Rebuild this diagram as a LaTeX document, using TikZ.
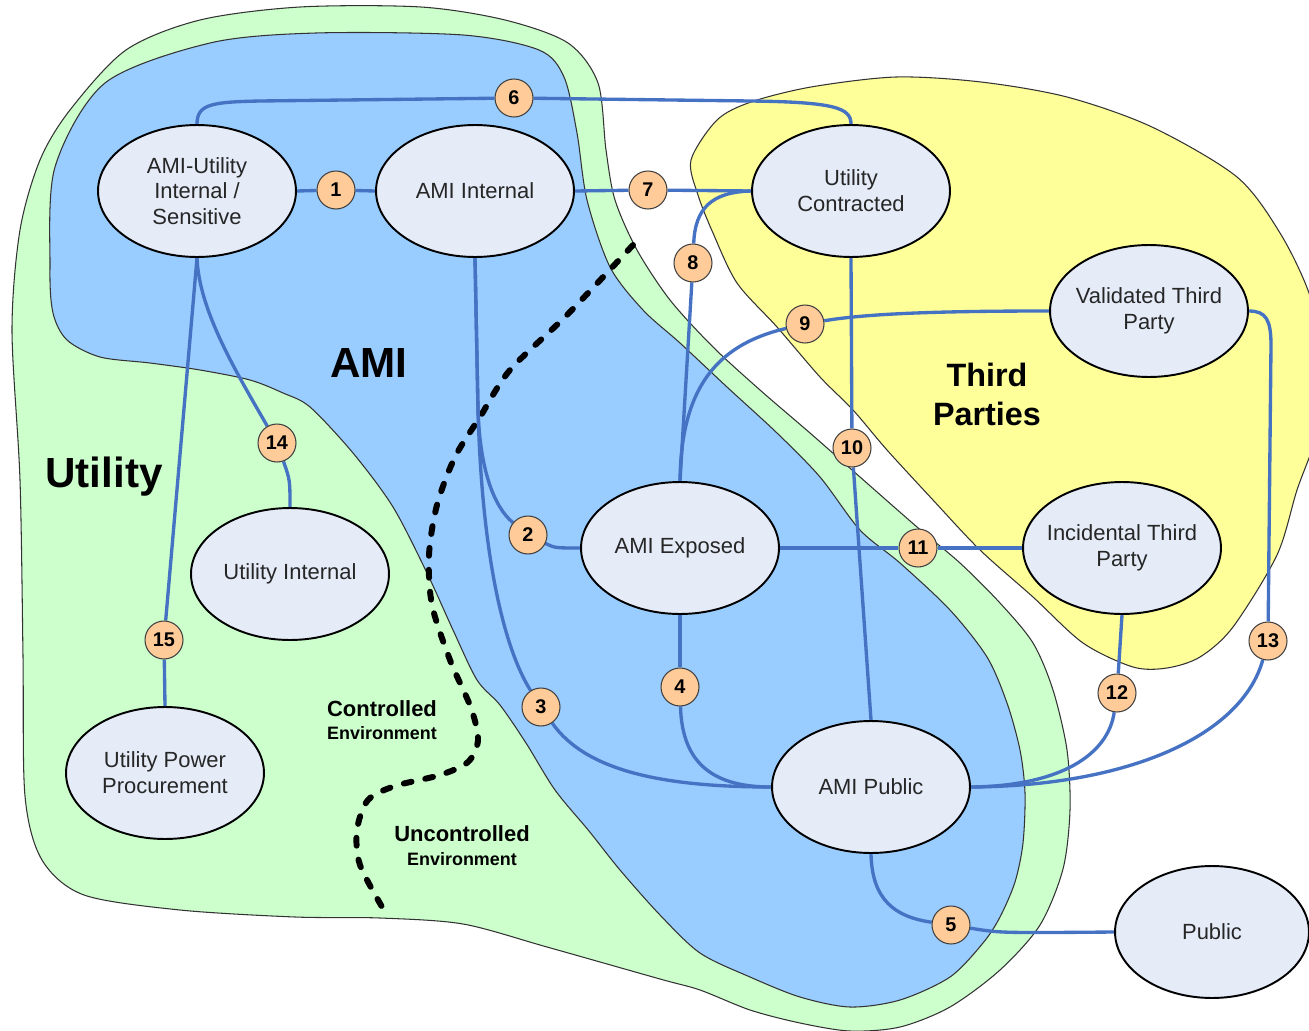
\documentclass[tikz,border=0pt]{standalone}
\usepackage{fontspec}
\setmainfont{Liberation Sans}
\usetikzlibrary{shapes.geometric}
\pgfdeclarelayer{back}
\pgfdeclarelayer{mid}
\pgfsetlayers{back,mid,main}
\definecolor{nodefill}{RGB}{229,236,248}
\definecolor{badgefill}{RGB}{255,204,153}
\definecolor{amiblue}{RGB}{153,204,255}
\definecolor{utilgreen}{RGB}{204,255,204}
\definecolor{thirdyellow}{RGB}{255,255,153}
\definecolor{connblue}{RGB}{70,114,196}
\tikzset{
  zone/.style={draw=black!80, line width=0.6pt},
  oval/.style={ellipse, draw=black, line width=1.1pt, fill=nodefill, inner xsep=-4pt, inner ysep=0pt,
    minimum width=3.96cm, minimum height=2.64cm, align=center, text=black!85,
    font=\fontsize{12.5pt}{14.7pt}\selectfont},
  badge/.style={circle, draw=black!75, line width=0.6pt, fill=badgefill, inner sep=0pt,
    minimum size=0.76cm, font=\bfseries\fontsize{11.3pt}{13pt}\selectfont},
  conn/.style={draw=connblue, line width=1.9pt},
  biglabel/.style={font=\bfseries\fontsize{24pt}{28pt}\selectfont, anchor=base, inner sep=0pt},
  midlabel/.style={font=\bfseries\fontsize{18.4pt}{21pt}\selectfont, anchor=base, inner sep=0pt},
  envbig/.style={font=\bfseries\fontsize{12.5pt}{14pt}\selectfont, anchor=base, inner sep=0pt},
  envsmall/.style={font=\bfseries\fontsize{10.2pt}{12pt}\selectfont, anchor=base, inner sep=0pt},
  boundary/.style={draw=black, line width=3.4pt, line cap=round, dash pattern=on 4.5pt off 8pt}
}
\begin{document}
\begin{tikzpicture}[x=0.02cm, y=-0.02cm]
\useasboundingbox (0,0) rectangle (1309,1031);

% ---------- regions ----------
\begin{pgfonlayer}{back}
\begin{scope}
\clip (0,0) rectangle (1309,1031);
% Utility (green)
\draw[zone, fill=utilgreen] plot[smooth cycle, tension=0.5] coordinates {
 (300,7) (421,7) (505,20) (568,43) (598,83) (606,150) (615,200) (637,250) (670,300)
 (713,347) (760,390) (810,433) (860,477) (917,527) (960,563) (1000,603) (1033,643)
 (1053,690) (1067,750) (1070,810) (1063,869) (1040,925) (1000,970) (950,1007)
 (900,1027) (850,1031) (800,1023) (750,1010) (700,990) (660,979) (547,947) (463,924)
 (380,918) (295,917) (180,910) (84,895) (42,860) (25,796) (23,656) (20,480) (12,330)
 (20,230) (40,160) (70,110) (126,50) (200,20)};
% AMI (blue)
\draw[zone, fill=amiblue] plot[smooth cycle, tension=0.5] coordinates {
 (105,83) (210,43) (316,33) (463,35) (539,50) (564,77) (577,133) (587,200) (610,267)
 (643,310) (680,343) (727,387) (777,433) (820,477) (860,530) (900,563) (950,610)
 (987,657) (1007,703) (1020,750) (1025,793) (1023,843) (1015,882) (1000,917) (983,943)
 (950,977) (900,1000) (850,1007) (800,997) (750,977) (700,953) (660,915) (620,870)
 (589,831) (555,790) (526,743) (500,705) (477,680) (453,630) (427,573) (393,507)
 (353,453) (310,407) (283,393) (250,380) (200,370) (150,363) (100,357) (67,340)
 (53,313) (50,267) (55,167)};
% Third parties (yellow)
\draw[zone, fill=thirdyellow] plot[smooth cycle, tension=0.5] coordinates {
 (691,160) (717,120) (751,102) (811,87) (896,77) (981,82) (1067,97) (1152,127)
 (1237,177) (1280,233) (1309,293) (1325,360) (1318,430) (1297,490) (1277,555)
 (1233,627) (1200,657) (1167,668) (1133,667) (1083,643) (1033,597) (980,550)
 (933,500) (887,450) (853,410) (820,377) (777,327) (737,283) (713,233) (698,195)};
% controlled / uncontrolled boundary
\draw[boundary] plot[smooth, tension=0.5] coordinates {
 (633,245) (567,315) (510,370) (480,417) (455,457) (437,505) (429,555) (432,605)
 (450,660) (471,708) (478,740) (468,762) (440,775) (395,786) (368,800) (357,830)
 (360,865) (385,912)};
\end{scope}
\end{pgfonlayer}

% ---------- labels ----------
\node[biglabel] (lutil) at (104,487) {Utility};
\node[biglabel] (lami) at (369,377) {AMI};
\node[midlabel] (lthird) at (987,386) {Third};
\node[midlabel] (lparties) at (987,425) {Parties};
\node[envbig] (lctrl) at (382,716) {Controlled};
\node[envsmall] (lctrlenv) at (382,739) {Environment};
\node[envbig] (lunctrl) at (462,841) {Uncontrolled};
\node[envsmall] (lunctrlenv) at (462,865) {Environment};

% ---------- nodes ----------
\node[oval] (au) at (197,191) {AMI-Utility\\Internal /\\Sensitive};
\node[oval] (ai) at (475,191) {AMI Internal};
\node[oval] (uc) at (851,191) {Utility\\Contracted};
\node[oval] (vt) at (1149,311) {Validated Third\\Party};
\node[oval] (ae) at (680,548) {AMI Exposed};
\node[oval] (it) at (1122,548) {Incidental Third\\Party};
\node[oval] (ui) at (290,574) {Utility Internal};
\node[oval] (up) at (165,773) {Utility Power\\Procurement};
\node[oval] (ap) at (871,787) {AMI Public};
\node[oval, minimum width=3.88cm] (pu) at (1212,932) {Public};

% ---------- badges ----------
\node[badge] (b1) at (336,190) {1};
\node[badge] (b2) at (528,535) {2};
\node[badge] (b3) at (541,707) {3};
\node[badge] (b4) at (680,687) {4};
\node[badge] (b5) at (951,925) {5};
\node[badge] (b6) at (514,98) {6};
\node[badge] (b7) at (648,190) {7};
\node[badge] (b8) at (693,263) {8};
\node[badge] (b9) at (805,324) {9};
\node[badge] (b10) at (852,448) {10};
\node[badge] (b11) at (918,548) {11};
\node[badge] (b12) at (1117,693) {12};
\node[badge] (b13) at (1268,641) {13};
\node[badge] (b14) at (277,443) {14};
\node[badge] (b15) at (164,640) {15};

% ---------- connectors ----------
\begin{pgfonlayer}{mid}
\draw[conn] (au.north) .. controls (197,104) and (212,102) .. (260,101) -- (b6);
\draw[conn] (b6) -- (750,101) .. controls (835,102) and (851,108) .. (uc.north);
\draw[conn] (au.east) -- (b1) -- (ai.west);
\draw[conn] (ai.east) -- (b7) -- (uc.west);
\draw[conn] (uc.west) .. controls (712,192) and (695,208) .. (b8);
\draw[conn] (b8) -- (ae.north);
\draw[conn] (vt.west) .. controls (950,311) and (870,313) .. (b9);
\draw[conn] (b9) .. controls (715,345) and (681,390) .. (ae.north);
\draw[conn] (uc.south) -- (b10) -- (ap.north);
\draw[conn] (ae.east) -- (b11) -- (it.west);
\draw[conn] (ai.south) -- (478,410) .. controls (480,470) and (494,507) .. (b2);
\draw[conn] (b2) .. controls (555,548) .. (ae.west);
\draw[conn] (ai.south) -- (478,410) .. controls (482,560) and (505,650) .. (b3);
\draw[conn] (b3) .. controls (585,770) and (660,787) .. (ap.west);
\draw[conn] (ae.south) -- (b4);
\draw[conn] (b4) .. controls (682,765) and (715,787) .. (ap.west);
\draw[conn] (ap.south) .. controls (872,900) and (895,917) .. (b5);
\draw[conn] (b5) .. controls (1000,933) .. (pu.west);
\draw[conn] (it.south) -- (b12);
\draw[conn] (b12) .. controls (1108,755) and (1060,786) .. (ap.east);
\draw[conn] (vt.east) .. controls (1266,311) and (1271,320) .. (1271,345) -- (b13);
\draw[conn] (b13) .. controls (1242,735) and (1130,786) .. (ap.east);
\draw[conn] (au.south) .. controls (199,310) and (235,370) .. (b14);
\draw[conn] (b14) .. controls (290,480) .. (ui.north);
\draw[conn] (au.south) -- (b15) -- (up.north);
\end{pgfonlayer}
\end{tikzpicture}
\end{document}
